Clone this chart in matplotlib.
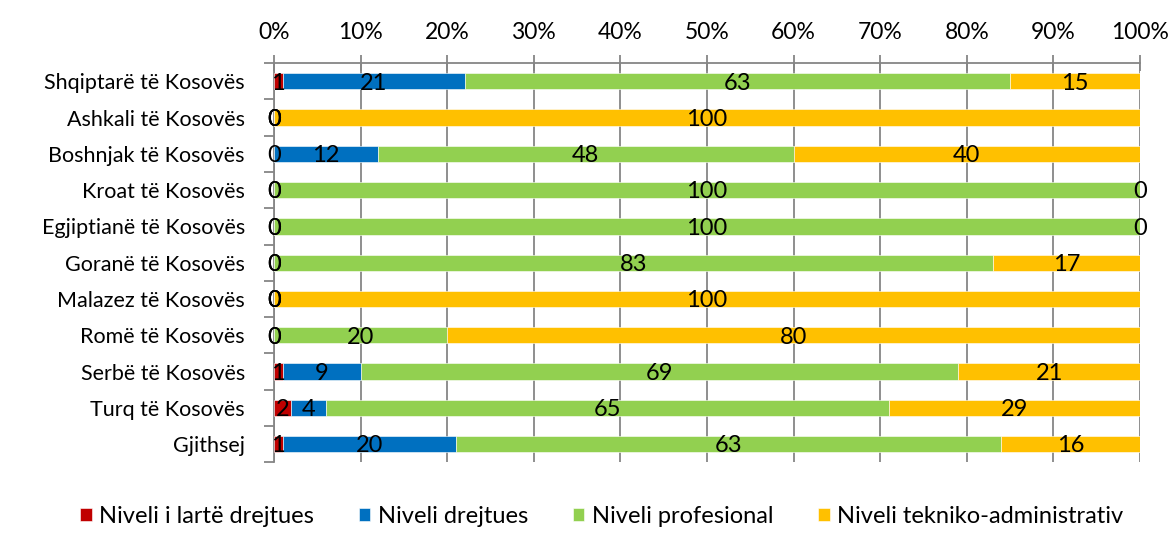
import numpy as np
import matplotlib.pyplot as plt
from matplotlib.ticker import PercentFormatter

plt.rcParams['font.family'] = ['Lato', 'DejaVu Sans']

kategorite = ["Shqiptarë të Kosovës", "Ashkali të Kosovës", "Boshnjak të Kosovës",
              "Kroat të Kosovës", "Egjiptianë të Kosovës", "Goranë të Kosovës",
              "Malazez të Kosovës", "Romë të Kosovës", "Serbë të Kosovës",
              "Turq të Kosovës", "Gjithsej"]

niveli_larte = [1, 0, 0, 0, 0, 0, 0, 0, 1, 2, 1]
niveli_drejtues = [21, 0, 12, 0, 0, 0, 0, 0, 9, 4, 20]
niveli_profesional = [63, 0, 48, 100, 100, 83, 0, 20, 69, 65, 63]
niveli_teknik = [15, 100, 40, 0, 0, 17, 100, 80, 21, 29, 16]

seri = [
    ("Niveli i lartë drejtues", niveli_larte, "#C00000"),
    ("Niveli drejtues", niveli_drejtues, "#0070C0"),
    ("Niveli profesional", niveli_profesional, "#92D050"),
    ("Niveli tekniko-administrativ", niveli_teknik, "#FFC000"),
]

fig = plt.figure(figsize=(11.73, 5.49), dpi=100)
ax = fig.add_axes([0.2336, 0.158, 0.7383, 0.727])

y = np.arange(len(kategorite))
left = np.zeros(len(kategorite))
for emri, vlerat, ngjyra in seri:
    v = np.array(vlerat, dtype=float)
    ax.barh(y, v, left=left, height=0.45, color=ngjyra, label=emri,
            edgecolor="white", linewidth=0.4, zorder=3)
    for yi, li, vi in zip(y, left, v):
        ax.text(li + vi / 2, yi + 0.05, f"{int(vi)}", ha="center", va="center",
                fontsize=17, color="black", zorder=4)
    left += v

ax.set_xlim(0, 100)
ax.set_ylim(len(kategorite) - 0.5, -0.5)
ax.xaxis.set_major_formatter(PercentFormatter(decimals=0))
ax.set_xticks(np.arange(0, 101, 10))
ax.xaxis.tick_top()
ax.tick_params(axis="x", direction="inout", length=11, width=1.3, color="#868686",
               labelsize=16.5, pad=9)

ax.set_yticks(y)
ax.set_yticklabels(kategorite, fontsize=15.5)
ax.set_yticks(np.arange(-0.5, len(kategorite)), minor=True)
ax.tick_params(axis="y", which="major", length=0, pad=21)
ax.tick_params(axis="y", which="minor", direction="out", length=7, width=1.3,
               color="#868686")

ax.grid(axis="x", color="#868686", linewidth=1.3, zorder=0)
for s in ["right", "bottom"]:
    ax.spines[s].set_visible(False)
for s in ["top", "left"]:
    ax.spines[s].set_color("#868686")
    ax.spines[s].set_linewidth(1.3)

ax.legend(loc="center left", bbox_to_anchor=(-0.224, -0.135), ncol=4, frameon=False,
          fontsize=17, handlelength=0.5, handleheight=0.5, handletextpad=0.3,
          columnspacing=1.9, borderpad=0, borderaxespad=0)

fig.savefig("out.png", dpi=100)
